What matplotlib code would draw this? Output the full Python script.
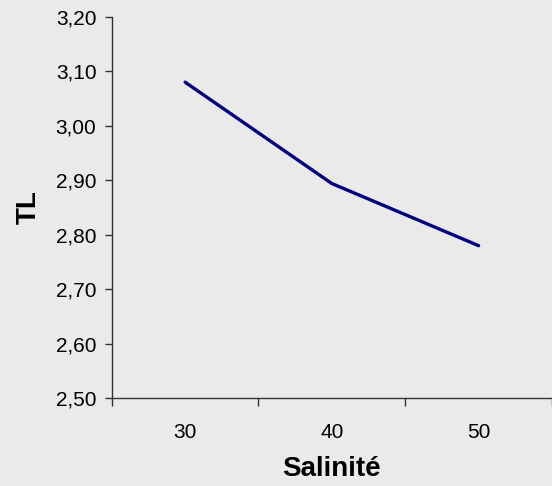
import matplotlib
matplotlib.use("Agg")
import matplotlib.pyplot as plt
from matplotlib.ticker import FixedLocator, FuncFormatter

# data
salinite = ["30", "40", "50"]
tl = [3.08, 2.894, 2.78]

BG = "#EAEAEA"
plt.rcParams["font.family"] = ["Liberation Sans", "DejaVu Sans"]

fig = plt.figure(figsize=(5.52, 4.86), dpi=100, facecolor=BG)
ax = fig.add_axes([0.2024, 0.1805, 0.7976, 0.785], facecolor=BG)

x = list(range(len(salinite)))
ax.plot(x, tl, color="#000080", lw=2.4, solid_capstyle="round", solid_joinstyle="round")

ax.set_xlim(-0.5, len(salinite) - 0.5)
ax.set_ylim(2.5, 3.2)
ax.set_yticks([2.5 + 0.1 * i for i in range(8)])
ax.yaxis.set_major_formatter(FuncFormatter(lambda v, _: f"{v:.2f}".replace(".", ",")))

# Excel-style category axis: ticks between categories, labels centred
ax.xaxis.set_major_locator(FixedLocator([i - 0.5 for i in range(len(salinite) + 1)]))
ax.xaxis.set_major_formatter(FuncFormatter(lambda v, _: ""))
ax.xaxis.set_minor_locator(FixedLocator(x))
ax.set_xticklabels(salinite, minor=True)
ax.tick_params(axis="x", which="minor", length=0, pad=18, labelsize=15)
ax.tick_params(axis="x", which="major", length=6, width=1, color="#333333")
ax.tick_params(axis="y", length=5, width=1, color="#333333", labelsize=15, pad=6)

for s in ["top", "right"]:
    ax.spines[s].set_visible(False)
for s in ["left", "bottom"]:
    ax.spines[s].set_color("#333333")
    ax.spines[s].set_linewidth(1)

ax.set_xlabel("Salinité", fontsize=20, fontweight="bold", labelpad=10)
ax.set_ylabel("TL", fontsize=20, fontweight="bold", labelpad=10)

fig.savefig("out.png", dpi=100, facecolor=BG)
